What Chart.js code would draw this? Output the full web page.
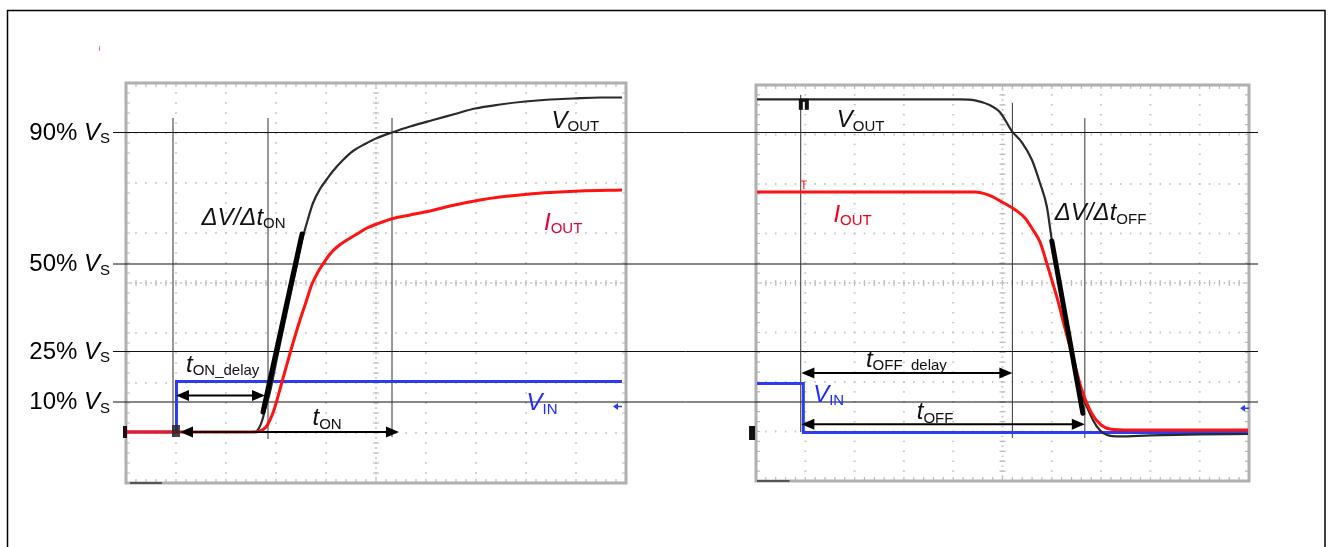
<!DOCTYPE html>
<html><head><meta charset="utf-8">
<script src="https://cdn.jsdelivr.net/npm/chart.js@4/dist/chart.umd.min.js"></script>
<style>html,body{margin:0;padding:0;background:#fff;overflow:hidden}canvas{display:block}</style>
</head><body>
<canvas id="c" width="1332" height="547"></canvas>
<script>
// ---------- DATA (time and level in oscilloscope divisions) ----------
// threshold levels (fraction of supply) drawn across both screens
const refLevels = [7.01, 4.38, 2.63, 1.62];
const refLabels = ['90%', '50%', '25%', '10%'];
const refSpan = [-0.26, 22.64];

// turn-on screen
const onVoutT = [0,2.58,2.66,2.72,2.78,2.88,3.02,3.16,3.30,3.42,3.52,3.64,3.74,3.88,4.02,4.14,4.34,4.54,4.78,5.02,5.32,5.68,6.14,6.58,6.98,7.48,7.98,8.48,8.94,9.48,9.92];
const onVoutV = [1.02,1.02,1.10,1.24,1.46,1.82,2.50,3.16,3.82,4.36,4.84,5.28,5.60,5.88,6.08,6.24,6.46,6.64,6.78,6.90,7.01,7.13,7.26,7.38,7.49,7.57,7.63,7.67,7.69,7.71,7.71];
const onIoutT = [0,2.52,2.68,2.80,2.88,2.96,3.12,3.34,3.48,3.60,3.72,3.84,3.94,4.08,4.22,4.42,4.62,4.82,5.02,5.34,5.68,6.08,6.48,7.08,7.48,7.98,8.48,9.08,9.92];
const onIoutV = [1.02,1.02,1.04,1.12,1.26,1.46,2.02,2.80,3.26,3.62,3.98,4.22,4.38,4.58,4.72,4.86,4.98,5.10,5.18,5.29,5.36,5.44,5.54,5.66,5.72,5.77,5.81,5.84,5.86];
const onVinT = [0,1.01,1.01,9.92];
const onVinV = [1.02,1.02,2.03,2.03];
const onSlopeT = [2.74,3.52];
const onSlopeV = [1.42,4.98];
const onMarkT = [0.94,2.84,5.32];
const onMarkTop = [7.3,7.3,7.3];
const onMarkBottom = [0.92,0.88,0.92];
const onArrowY = [1.75,1.02];
const onArrowFrom = [1.0,1.08];
const onArrowTo = [2.78,5.46];

// turn-off screen
const offVoutT = [0.02,4.14,4.44,4.75,4.95,5.19,5.40,5.60,5.76,5.90,6.00,6.13,6.25,6.37,6.49,6.59,6.71,6.84,6.98,7.12,7.38,7.99,9.01,9.98];
const offVoutV = [7.71,7.71,7.69,7.59,7.45,7.07,6.83,6.48,6.02,5.54,4.87,4.16,3.45,2.77,2.14,1.80,1.50,1.22,1.02,0.93,0.90,0.92,0.94,0.95];
const offIoutT = [0.02,4.44,4.71,4.95,5.27,5.46,5.62,5.76,5.88,6.00,6.13,6.25,6.37,6.49,6.59,6.69,6.82,6.98,7.18,7.59,9.98];
const offIoutV = [5.84,5.84,5.78,5.66,5.47,5.31,5.07,4.83,4.46,4.06,3.62,3.15,2.71,2.26,1.90,1.62,1.35,1.15,1.05,1.03,1.03];
const offVinT = [0.02,0.96,0.96,9.98];
const offVinV = [1.97,1.97,0.98,0.98];
const offSlopeT = [6.00,6.63];
const offSlopeV = [4.85,1.37];
const offMarkT = [0.907,5.2,6.67];
const offMarkTop = [7.8,7.64,7.33];
const offMarkBottom = [0.99,0.87,0.87];
const offArrowY = [2.18,1.145];
const offArrowFrom = [0.92,0.92];
const offArrowTo = [5.2,6.67];

// text content
const txtVout = [['V','i'],['OUT','s']];
const txtIout = [['I','i'],['OUT','s']];
const txtVin = [['V','i'],['IN','s']];
const txtSlopeOn = [['ΔV/Δt','i'],['ON','s']];
const txtSlopeOff = [['ΔV/Δt','i'],['OFF','s']];
const txtTonDelay = [['t','i'],['ON_delay','s']];
const txtTon = [['t','i'],['ON','s']];
const txtToffDelay = [['t','i'],['OFF_delay','s']];
const txtToff = [['t','i'],['OFF','s']];

// ---------- LAYOUT / STYLE ----------
const FAM = '"Liberation Sans", Arial, Helvetica, sans-serif';
const MAIN = 24, SUB = 15, SUBDY = 3.5;
const C_V = '#2a2a2a', C_I = '#ff1212', C_IN = '#2c3cf0';

const labelPlacement = [
  {axes:['x','y'], x:8.51, y:7.11, parts:txtVout, color:'#111'},
  {axes:['x','y'], x:8.36, y:5.07, parts:txtIout, color:'#e4003a'},
  {axes:['x','y'], x:1.51, y:5.17, parts:txtSlopeOn, color:'#111'},
  {axes:['x','y'], x:1.20, y:2.23, parts:txtTonDelay, color:'#111'},
  {axes:['x','y'], x:3.73, y:1.16, parts:txtTon, color:'#111'},
  {axes:['x','y'], x:8.01, y:1.46, parts:txtVin, color:'#1f2bff'},
  {axes:['x2','y2'], x:1.64, y:7.15, parts:txtVout, color:'#111'},
  {axes:['x2','y2'], x:1.57, y:5.24, parts:txtIout, color:'#f2001c'},
  {axes:['x2','y2'], x:6.06, y:5.27, parts:txtSlopeOff, color:'#111'},
  {axes:['x2','y2'], x:2.23, y:2.31, parts:txtToffDelay, color:'#111'},
  {axes:['x2','y2'], x:3.26, y:1.25, parts:txtToff, color:'#111'},
  {axes:['x2','y2'], x:1.16, y:1.60, parts:txtVin, color:'#1f2bff'}
];

function pts(t, v){ return t.map((x,i)=>({x, y:v[i]})); }

const datasets = [];
function addLine(t, v, axes, color, width, order, extra){
  datasets.push(Object.assign({data:pts(t,v), xAxisID:axes[0], yAxisID:axes[1], borderColor:color,
    borderWidth:width, pointRadius:0, tension:0, fill:false, order}, extra||{}));
}
// threshold lines
refLevels.forEach(l => addLine(refSpan, [l,l], ['x','y'], '#111', 1, 60, {clip:false}));
// time marker lines
onMarkT.forEach((t,i)=>addLine([t,t],[onMarkBottom[i],onMarkTop[i]],['x','y'],'#333',1,50));
offMarkT.forEach((t,i)=>addLine([t,t],[offMarkBottom[i],offMarkTop[i]],['x2','y2'],'#333',1,50));
// waveforms
addLine(onVinT, onVinV, ['x','y'], C_IN, 3, 40);
addLine(offVinT, offVinV, ['x2','y2'], C_IN, 3, 40);
addLine(onVoutT, onVoutV, ['x','y'], C_V, 2.2, 30, {cubicInterpolationMode:'monotone'});
addLine(offVoutT, offVoutV, ['x2','y2'], C_V, 2.2, 30, {cubicInterpolationMode:'monotone'});
addLine(onIoutT, onIoutV, ['x','y'], C_I, 3, 25, {cubicInterpolationMode:'monotone'});
addLine(offIoutT, offIoutV, ['x2','y2'], C_I, 3, 25, {cubicInterpolationMode:'monotone'});
// slew-rate tangents
addLine(onSlopeT, onSlopeV, ['x','y'], '#000', 5, 5, {borderCapStyle:'round'});
addLine(offSlopeT, offSlopeV, ['x2','y2'], '#000', 5, 5, {borderCapStyle:'round'});
// arrow shafts
onArrowY.forEach((y,i)=>addLine([onArrowFrom[i]+0.2,onArrowTo[i]-0.2],[y,y],['x','y'],'#000',2,4));
offArrowY.forEach((y,i)=>addLine([offArrowFrom[i]+0.2,offArrowTo[i]-0.2],[y,y],['x2','y2'],'#000',2,4));

function partFont(p){
  const size = p[1]==='s' ? SUB : MAIN;
  return (p[1]==='i' ? 'italic ' : '') + size + 'px ' + FAM;
}
function drawRich(ctx, x, y, parts, color, right){
  let w = 0;
  parts.forEach(p=>{ctx.font=partFont(p); w+=ctx.measureText(p[0]).width;});
  let cx = right ? x - w : x;
  ctx.fillStyle = color; ctx.textAlign='left'; ctx.textBaseline='alphabetic';
  parts.forEach(p=>{ctx.font=partFont(p); ctx.fillText(p[0], cx, y + (p[1]==='s'?SUBDY:0)); cx += ctx.measureText(p[0]).width;});
}

function graticule(ctx, xs, ys){
  const X=v=>xs.getPixelForValue(v), Y=v=>ys.getPixelForValue(v);
  const L=X(0), R=X(10), T=Y(8), B=Y(0);
  const sx=(R-L)/50, sy=(B-T)/40;
  ctx.fillStyle='#c6c6c6';
  for(let i=1;i<10;i++){ if(i===5) continue; const x=X(i); for(let k=1;k<40;k++) ctx.fillRect(x-1, T+k*sy-0.75, 2, 1.5); }
  for(let j=1;j<8;j++){ if(j===4) continue; const y=Y(j); for(let k=1;k<50;k++) ctx.fillRect(L+k*sx-0.75, y-1, 1.5, 2); }
  const cx=X(5), cy=Y(4);
  for(let k=1;k<80;k++) ctx.fillRect(cx-1, T+k*sy/2-0.75, 2, 1.5);
  for(let k=1;k<100;k++) ctx.fillRect(L+k*sx/2-0.75, cy-1, 1.5, 2);
  ctx.strokeStyle='#bcbcbc'; ctx.lineWidth=1.2;
  ctx.beginPath();
  for(let k=1;k<40;k++){ const y=T+k*sy; ctx.moveTo(cx-3,y); ctx.lineTo(cx+3,y); ctx.moveTo(L,y); ctx.lineTo(L+4,y); ctx.moveTo(R,y); ctx.lineTo(R-4,y); }
  for(let k=1;k<50;k++){ const x=L+k*sx; ctx.moveTo(x,cy-3); ctx.lineTo(x,cy+3); ctx.moveTo(x,T); ctx.lineTo(x,T+4); ctx.moveTo(x,B); ctx.lineTo(x,B-4); }
  ctx.stroke();
  ctx.strokeStyle='#b0b0b0'; ctx.lineWidth=3;
  ctx.strokeRect(L, T, R-L, B-T);
}

function arrowHead(ctx, x, y, dir){
  ctx.beginPath();
  ctx.moveTo(x, y); ctx.lineTo(x - dir*13, y - 5.5); ctx.lineTo(x - dir*13, y + 5.5); ctx.closePath();
  ctx.fill();
}

const scopePlugin = {
  id:'scope',
  beforeDatasetsDraw(chart){
    const ctx = chart.ctx, s = chart.scales;
    ctx.save();
    ctx.strokeStyle='#000'; ctx.lineWidth=1.5;
    ctx.strokeRect(7.5, 10.5, 1317.5, 560);
    ctx.strokeStyle='#e070e0'; ctx.lineWidth=1;
    ctx.beginPath(); ctx.moveTo(99.5,46); ctx.lineTo(99.5,51); ctx.stroke();
    graticule(ctx, s.x, s.y);
    graticule(ctx, s.x2, s.y2);
    // dark bars on bottom border
    ctx.fillStyle='#555';
    ctx.fillRect(s.x.getPixelForValue(0.08), s.y.getPixelForValue(0)-1, s.x.getPixelForValue(0.72)-s.x.getPixelForValue(0.08), 2);
    ctx.fillRect(s.x2.getPixelForValue(0.02), s.y2.getPixelForValue(0)-1, s.x2.getPixelForValue(0.68)-s.x2.getPixelForValue(0.02), 2);
    ctx.restore();
  },
  afterDatasetsDraw(chart){
    const ctx = chart.ctx, s = chart.scales;
    ctx.save();
    // arrow heads
    ctx.fillStyle='#000';
    onArrowY.forEach((y,i)=>{ const py=s.y.getPixelForValue(y);
      arrowHead(ctx, s.x.getPixelForValue(onArrowFrom[i]), py, -1);
      arrowHead(ctx, s.x.getPixelForValue(onArrowTo[i]), py, 1); });
    offArrowY.forEach((y,i)=>{ const py=s.y2.getPixelForValue(y);
      arrowHead(ctx, s.x2.getPixelForValue(offArrowFrom[i]), py, -1);
      arrowHead(ctx, s.x2.getPixelForValue(offArrowTo[i]), py, 1); });
    // scope channel markers
    const P = (ax, ay, x, y) => [s[ax].getPixelForValue(x), s[ay].getPixelForValue(y)];
    let [a,b] = P('x','y',-0.02,1.02); ctx.fillStyle='#111'; ctx.fillRect(a-2,b-6,4,12);
    [a,b] = P('x','y',1.0,1.04); ctx.fillStyle='rgba(40,40,40,0.85)'; ctx.fillRect(a-4,b-6,8,12);
    [a,b] = P('x2','y2',-0.08,0.97); ctx.fillStyle='#111'; ctx.fillRect(a-3,b-7,6,14);
    [a,b] = P('x2','y2',0.97,7.6); ctx.fillStyle='#111'; ctx.fillRect(a-5,b-6,10,11);
    ctx.fillStyle='#fff'; ctx.fillRect(a-1,b-3,2,8);
    [a,b] = P('x2','y2',0.97,5.98); ctx.strokeStyle='#f22'; ctx.lineWidth=1.2;
    ctx.beginPath(); ctx.moveTo(a-3,b-4); ctx.lineTo(a+3,b-4); ctx.moveTo(a,b-4); ctx.lineTo(a,b+4); ctx.stroke();
    ctx.fillStyle=C_IN; ctx.strokeStyle=C_IN; ctx.lineWidth=1.5;
    [[ 'x','y',9.8,1.53],['x2','y2',9.88,1.47]].forEach(m=>{ const [px,py]=P(m[0],m[1],m[2],m[3]);
      ctx.beginPath(); ctx.moveTo(px-3,py); ctx.lineTo(px+2,py-3.5); ctx.lineTo(px+2,py+3.5); ctx.closePath(); ctx.fill();
      ctx.beginPath(); ctx.moveTo(px+2,py); ctx.lineTo(px+6,py); ctx.stroke(); });
    // threshold labels
    refLevels.forEach((l,i)=>{
      const py = s.y.getPixelForValue(l);
      drawRich(ctx, s.x.getPixelForValue(-0.32), py+7, [[refLabels[i]+' ','n'],['V','i'],['S','s']], '#000', true);
    });
    // trace / timing labels
    labelPlacement.forEach(L=>{
      drawRich(ctx, s[L.axes[0]].getPixelForValue(L.x), s[L.axes[1]].getPixelForValue(L.y), L.parts, L.color, false);
    });
    ctx.restore();
  }
};

new Chart(document.getElementById('c'), {
  type:'line',
  data:{datasets},
  options:{
    responsive:false, animation:false, events:[],
    layout:{padding:{left:126, right:83, top:83, bottom:64}},
    plugins:{legend:{display:false}, tooltip:{enabled:false}, title:{display:false}},
    scales:{
      x:{type:'linear', min:0, max:22.46, display:false},
      x2:{type:'linear', min:-12.779, max:10, display:false},
      y:{type:'linear', min:0, max:8, display:false},
      y2:{type:'linear', min:-0.0404, max:8.0404, display:false}
    }
  },
  plugins:[scopePlugin]
});
</script>
</body></html>
